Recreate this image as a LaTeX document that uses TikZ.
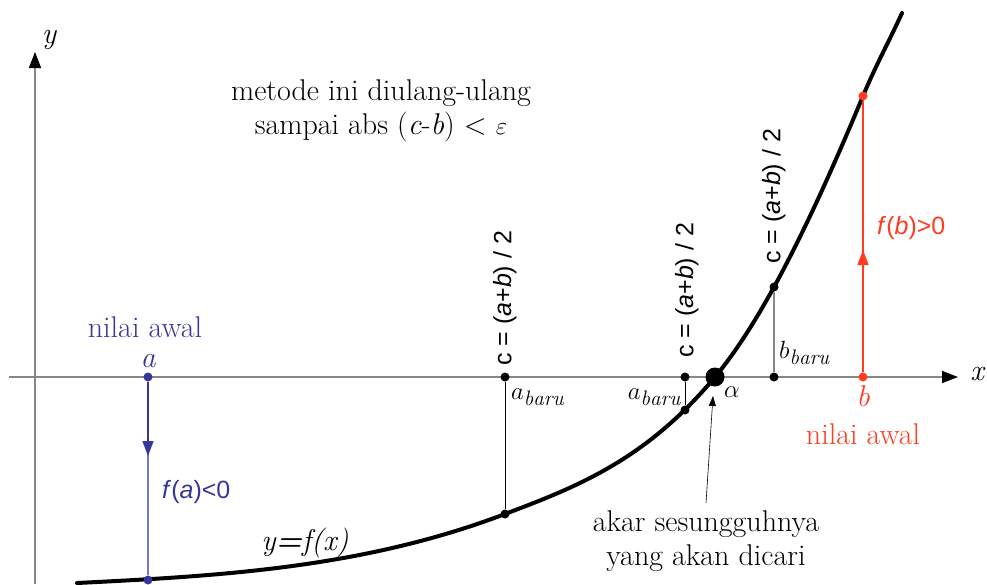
\documentclass[tikz,border=0pt]{standalone}
\usepackage{fontspec}
\newfontfamily\sansf{Liberation Sans}
\usetikzlibrary{arrows.meta}
\definecolor{ablue}{RGB}{55,55,155}
\definecolor{lblue}{RGB}{120,120,200}
\definecolor{ored}{RGB}{255,60,30}
\definecolor{axgray}{RGB}{135,135,135}
\begin{document}
\begin{tikzpicture}[x=1pt,y=-1pt,
  dot/.style={circle,fill,inner sep=0pt,minimum size=9pt},
  bigdot/.style={circle,fill,inner sep=0pt,minimum size=19pt},
  lab/.style={font=\fontsize{30}{34}\selectfont,inner sep=0pt},
  ilab/.style={font=\fontsize{30}{34}\selectfont\itshape,inner sep=0pt},
  sublab/.style={font=\fontsize{30}{34}\selectfont,inner sep=0pt},
  slab/.style={font=\sansf\fontsize{25}{29}\selectfont,inner sep=0pt},
  rlab/.style={font=\sansf\fontsize{25}{29}\selectfont,inner sep=0pt,rotate=90,anchor=west},
  axis/.style={axgray,line width=1.4pt,-{Triangle[length=16pt,width=12pt,color=black]}},
  thin/.style={line width=0.8pt},
  tip/.style={-{Triangle[length=15pt,width=11pt]}}]
\useasboundingbox (0,0) rectangle (987,584);
% axes
\coordinate (xs) at (9,377);
\coordinate (xe) at (958,377);
\coordinate (ys) at (35,584);
\coordinate (ye) at (35,52);
\draw[axis] (xs) -- (xe);
\draw[axis] (ys) -- (ye);
\node[ilab] (ylab) at (49,40) {y};
\node[ilab] (xlab) at (977,374) {x};
% curve
\draw[line width=4pt,line cap=round] (77,583) .. controls (219.7,575.9) and (362.3,568.2) .. (505,514)
  .. controls (575,487.4) and (645,461) .. (715,377)
  .. controls (764.3,317.8) and (813.7,214.4) .. (863,96)
  .. controls (876,64.8) and (889,41.6) .. (902,13);
% a side
\node[dot,ablue] (pa) at (148,377) {};
\node[dot,ablue] (pfa) at (148,580) {};
\coordinate (arra) at (148,456);
\draw[lblue,line width=1.3pt] (pa) -- (pfa);
\draw[ablue,tip,line width=1.3pt] (pa) -- (arra);
\node[lab,ablue] (nla) at (145,327) {nilai awal};
\node[ilab,ablue] (la) at (148,361) {a};
\node[slab,ablue,anchor=west] (fa) at (162,492) {\textit{f}(\textit{a})<0};
% first c
\node[dot] (c1) at (505,377) {};
\node[dot] (fc1) at (505,514) {};
\draw[thin] (c1) -- (fc1);
\node[rlab] (rc1) at (505,366) {c = (\textit{a}+\textit{b}) / 2};
\node[sublab,anchor=west] (ab1) at (511,397) {$a_{\mathit{baru}}$};
% second c
\node[dot] (c2) at (685,377) {};
\node[dot] (fc2) at (685,410) {};
\draw[thin] (c2) -- (fc2);
\node[rlab] (rc2) at (687,358) {c = (\textit{a}+\textit{b}) / 2};
\node[sublab,anchor=east] (ab2) at (681,397) {$a_{\mathit{baru}}$};
% root
\node[bigdot] (root) at (715,377) {};
\node[lab] (al) at (732,392) {$\alpha$};
\coordinate (akar) at (706,503);
\coordinate (atip) at (713,396);
\draw[line width=0.6pt,-{Triangle[length=10pt,width=7pt]}] (akar) -- (atip);
\node[lab,align=center] (akt) at (706,541) {akar sesungguhnya\\yang akan dicari};
% b baru
\node[dot] (c3) at (774,377) {};
\node[dot] (fc3) at (774,287) {};
\draw[axgray,line width=1.2pt] (c3) -- (fc3);
\node[rlab] (rc3) at (774,264) {c = (\textit{a}+\textit{b}) / 2};
\node[sublab,anchor=west] (bb) at (779,353) {$b_{\mathit{baru}}$};
% b side
\node[dot,ored] (pb) at (863,377) {};
\node[dot,ored] (pfb) at (863,96) {};
\coordinate (arrb) at (863,250);
\draw[ored,line width=1.5pt] (pb) -- (pfb);
\draw[ored,tip,line width=1.5pt] (pb) -- (arrb);
\node[ilab,ored] (lb) at (863,396) {b};
\node[lab,ored] (nlb) at (863,434) {nilai awal};
\node[slab,ored,anchor=west] (fb) at (877,228) {\textit{f}(\textit{b})>0};
% texts
\node[lab,align=center] (top) at (381,111) {metode ini diulang-ulang\\sampai abs (\textit{c}-\textit{b}) < $\varepsilon$};
\node[ilab] (yfx) at (305,543) {y\textbf{=}f(x)};
\end{tikzpicture}
\end{document}
